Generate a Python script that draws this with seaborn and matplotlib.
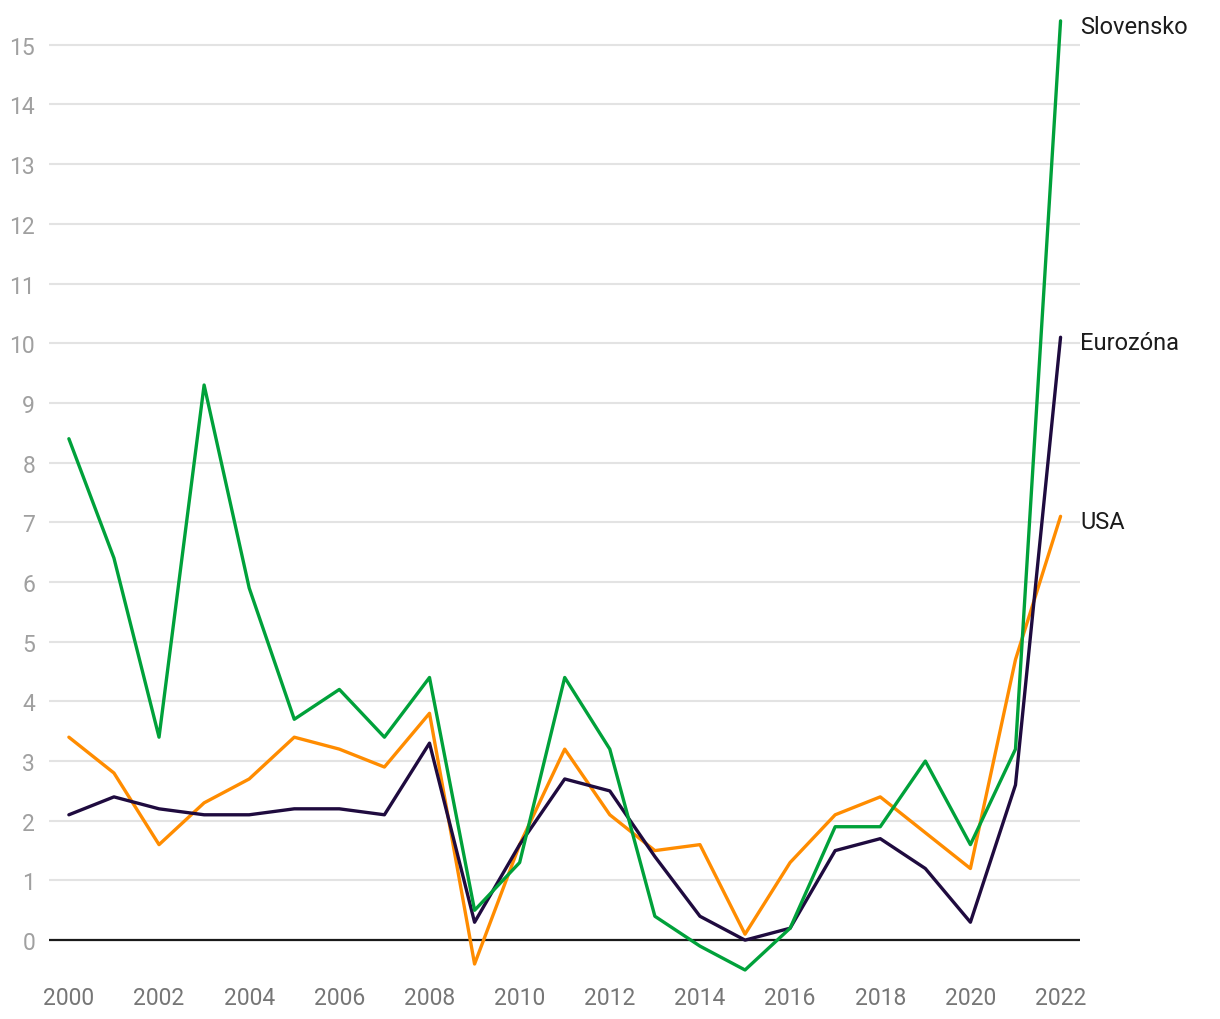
import numpy as np
import pandas as pd
import matplotlib
matplotlib.use("Agg")
import matplotlib.pyplot as plt
import seaborn as sns

years = list(range(2000, 2023))
slovensko = [8.4, 6.4, 3.4, 9.3, 5.9, 3.7, 4.2, 3.4, 4.4, 0.5, 1.3, 4.4, 3.2, 0.4, -0.1, -0.5, 0.2, 1.9, 1.9, 3.0, 1.6, 3.2, 15.4]
eurozona = [2.1, 2.4, 2.2, 2.1, 2.1, 2.2, 2.2, 2.1, 3.3, 0.3, 1.6, 2.7, 2.5, 1.4, 0.4, 0.0, 0.2, 1.5, 1.7, 1.2, 0.3, 2.6, 10.1]
usa = [3.4, 2.8, 1.6, 2.3, 2.7, 3.4, 3.2, 2.9, 3.8, -0.4, 1.6, 3.2, 2.1, 1.5, 1.6, 0.1, 1.3, 2.1, 2.4, 1.8, 1.2, 4.7, 7.1]
series_names = ["USA", "Eurozóna", "Slovensko"]
colors = {"Slovensko": "#00a13a", "Eurozóna": "#1f0b3f", "USA": "#ff8c00"}
x_ticks = list(range(2000, 2023, 2))
y_ticks = list(range(0, 16))

df = pd.concat([
    pd.DataFrame({"year": years, "value": usa, "series": "USA"}),
    pd.DataFrame({"year": years, "value": eurozona, "series": "Eurozóna"}),
    pd.DataFrame({"year": years, "value": slovensko, "series": "Slovensko"}),
])

sns.set_theme(style="white")
plt.rcParams["font.family"] = ["Roboto", "DejaVu Sans"]

fig = plt.figure(figsize=(12.2, 10.2), dpi=100)
ax = fig.add_axes([0.0402, 0.0422, 0.845, 0.9422])

for y in y_ticks[1:]:
    ax.axhline(y, color="#e3e3e3", lw=1.5, zorder=0)
ax.axhline(0, color="#1a1a1a", lw=1.6, zorder=1)

sns.lineplot(data=df, x="year", y="value", hue="series", hue_order=series_names,
             palette=colors, lw=2.4, legend=False, ax=ax, zorder=3)

ax.set_xlim(1999.56, 2022.43)
ax.set_ylim(-0.6, 15.5)
ax.set_xticks(x_ticks)
ax.set_yticks(y_ticks)
ax.set_xlabel("")
ax.set_ylabel("")
for s in ax.spines.values():
    s.set_visible(False)
ax.tick_params(axis="y", length=0, pad=10, labelsize=16.5, labelcolor="#a0a0a0")
ax.tick_params(axis="x", length=0, pad=7, labelsize=16.5, labelcolor="#767676")

ends = {"Slovensko": slovensko[-1], "Eurozóna": eurozona[-1], "USA": usa[-1]}
for name, v in ends.items():
    ax.annotate(name, xy=(years[-1], v), xytext=(14, -4), textcoords="offset points",
                ha="left", va="center", fontsize=17, color="#1c1c1c", annotation_clip=False)

fig.savefig("out.png", dpi=100)
